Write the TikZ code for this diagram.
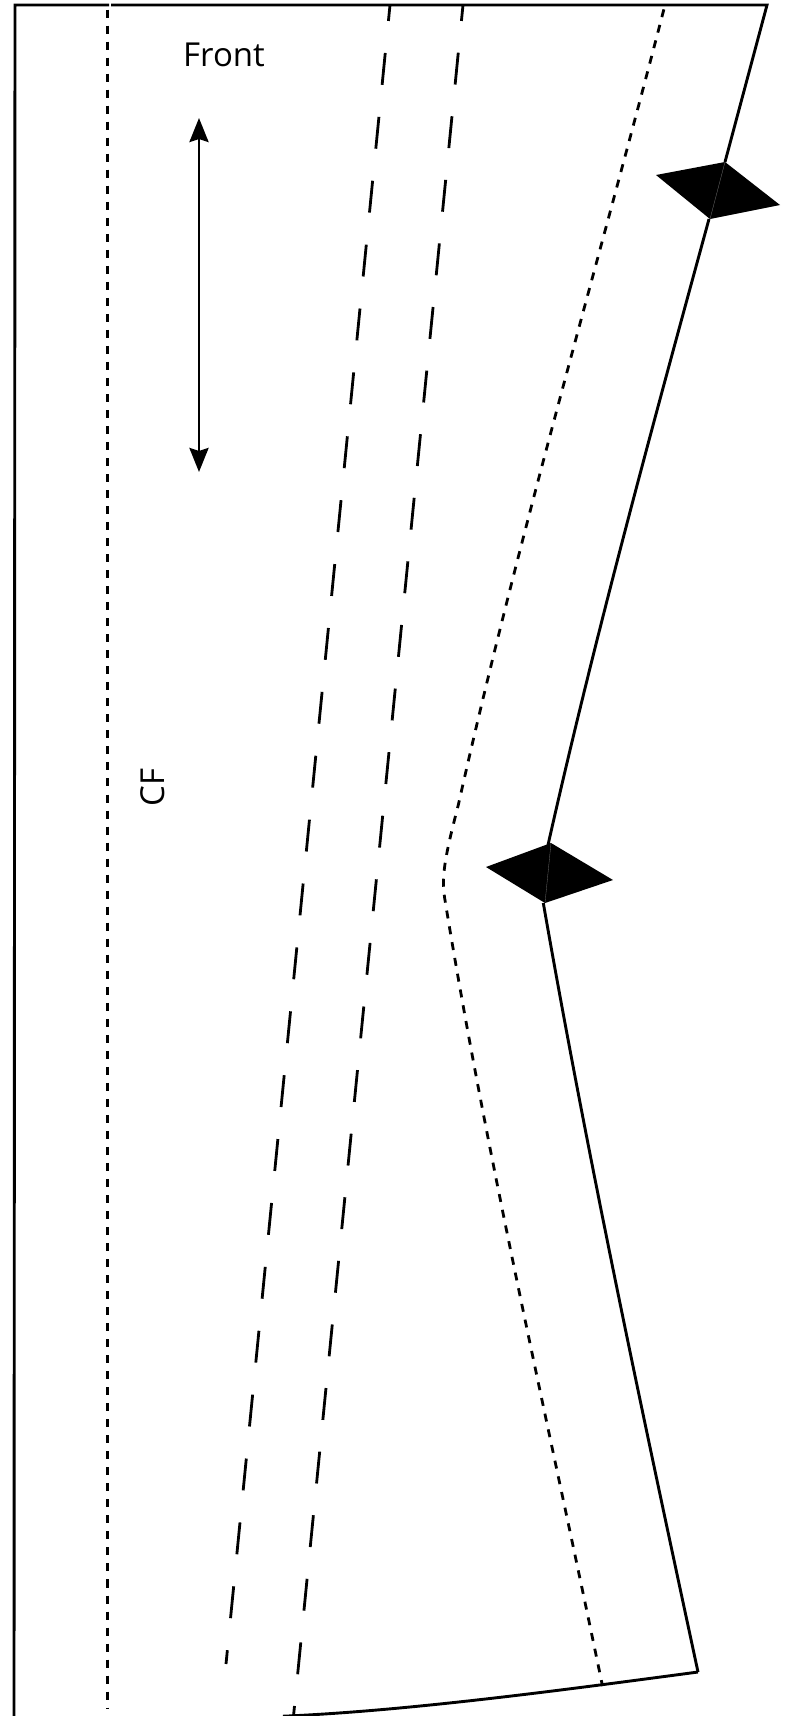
\documentclass[tikz,border=0pt]{standalone}
\usepackage{fontspec}
\setmainfont{Open Sans}
\usetikzlibrary{arrows.meta}
\tikzset{
  outline/.style={line width=2.9pt,line join=miter},
  seam/.style={line width=2.8pt,dash pattern=on 8pt off 8.02pt,dash phase=11.5pt},
  fold/.style={line width=3pt,dash pattern=on 8pt off 8.02pt,dash phase=11.5pt},
  stitchA/.style={line width=2.8pt,dash pattern=on 32pt off 32.2pt,dash phase=16pt},
  stitchB/.style={line width=2.8pt,dash pattern=on 32pt off 31.9pt,dash phase=16pt},
  notchfill/.style={fill=black,draw=none},
  notchseam/.style={draw=black!55,line width=0.3pt},
  grain/.style={line width=2.8pt,{Stealth[length=24pt,width=19pt,inset=3pt]}-{Stealth[length=24pt,width=19pt,inset=3pt]}},
  label/.style={inner sep=0pt,font=\fontsize{33}{33}\selectfont}
}
\begin{document}
\begin{tikzpicture}[x=1pt,y=-1pt]
\useasboundingbox (0,0) rectangle (789,1716);
% outline
\draw[outline] (14,1716) -- (15,5) -- (109,5);
\draw[outline] (111,5) -- (767,5) -- (725,162);
\draw[outline] (709,219) .. controls (652,427.7) and (595,636.3) .. (548,845);
\draw[outline] (543.3,903) .. controls (588,1159) and (643,1416) .. (698,1672);
\draw[outline] (698,1672) .. controls (563,1690) and (407,1711) .. (283,1716.2);
% notches
\fill[notchfill] (725,162) -- (780,205) -- (710,219) -- (656,175) -- cycle;
\draw[notchseam] (725,162) -- (710,219);
\fill[notchfill] (551,843) -- (613,880) -- (545,903) -- (486,867) -- cycle;
\draw[notchseam] (551,843) -- (545,903);
% centre front fold
\draw[fold] (107,5) -- (107,1709);
% seam allowance
\draw[seam] (665,5) .. controls (596,271.7) and (518,538.3) .. (458.3,805)
  .. controls (444,860) and (441,878) .. (445.3,902)
  .. controls (488,1163) and (548.5,1425) .. (602.5,1686);
% stitching lines
\draw[stitchA] (390,5) -- (226,1664);
\draw[stitchB] (463,5) -- (293.5,1716);
% grain arrow
\coordinate (grainTop) at (199,118);
\coordinate (grainBot) at (199,472);
\draw[grain] (grainTop) -- (grainBot);
% labels
\node[label,anchor=base west] (front) at (183,66) {Front};
\node[label,anchor=base west,rotate=90] (cf) at (164,807) {CF};
\end{tikzpicture}
\end{document}
